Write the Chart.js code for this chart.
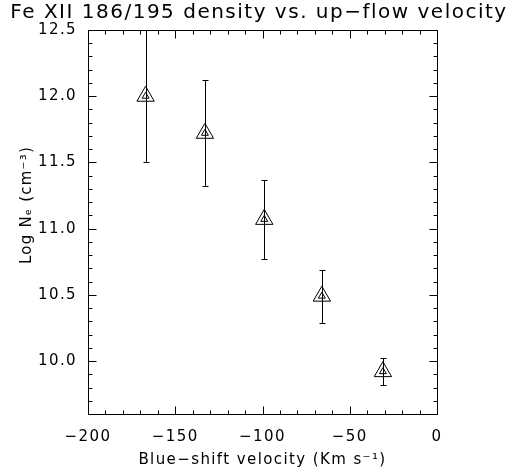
<!DOCTYPE html>
<html><head><meta charset="utf-8">
<script src="https://cdn.jsdelivr.net/npm/chart.js@4/dist/chart.umd.min.js"></script>
<style>html,body{margin:0;padding:0;background:#fff}canvas{display:block}</style>
</head><body>
<canvas id="c" width="511" height="471"></canvas>
<script>
const velocity = [-167, -133, -99, -66, -31];
const logNe = [12.0, 11.72, 11.07, 10.49, 9.92];
const errUpper = [0.5, 0.4, 0.3, 0.2, 0.1];
const errLower = [0.5, 0.4, 0.3, 0.2, 0.1];
const xTickValues = [-200, -150, -100, -50, 0];
const yTickValues = [10.0, 10.5, 11.0, 11.5, 12.0, 12.5];
const titleText = 'Fe XII 186/195 density vs. up\u2212flow velocity';
const xTitle = 'Blue\u2212shift velocity (Km s\u207B\u00B9)';
const yTitle = 'Log N\u2091 (cm\u207B\u00B3)';

const FONT = 'DejaVu Sans';

const spacing = {
  id: 'spacing',
  beforeDraw(chart) { chart.ctx.letterSpacing = '1.4px'; }
};

const texts = {
  id: 'texts',
  afterDraw(chart) {
    const ctx = chart.ctx;
    ctx.save();
    ctx.fillStyle = '#000';
    ctx.textBaseline = 'middle';
    ctx.textAlign = 'center';
    ctx.letterSpacing = '1.5px';
    ctx.font = '20px "' + FONT + '"';
    ctx.fillText(titleText, 259, 13);
    ctx.letterSpacing = '1.2px';
    ctx.font = '15px "' + FONT + '"';
    ctx.translate(27, 205);
    ctx.rotate(-Math.PI / 2);
    ctx.fillText(yTitle, 0, 0);
    ctx.restore();
  }
};

const errorBars = {
  id: 'errorBars',
  beforeDatasetsDraw(chart) {
    const {ctx, chartArea: ca, scales: {x, y}} = chart;
    ctx.save();
    ctx.beginPath();
    ctx.rect(ca.left, ca.top, ca.right - ca.left, ca.bottom - ca.top);
    ctx.clip();
    ctx.strokeStyle = '#000';
    ctx.lineWidth = 1;
    ctx.beginPath();
    velocity.forEach((v, i) => {
      const px = Math.round(x.getPixelForValue(v)) + 0.5;
      const yh = Math.round(y.getPixelForValue(logNe[i] + errUpper[i])) + 0.5;
      const yl = Math.round(y.getPixelForValue(logNe[i] - errLower[i])) + 0.5;
      ctx.moveTo(px, yh); ctx.lineTo(px, yl);
      ctx.moveTo(px - 3, yh); ctx.lineTo(px + 3, yh);
      ctx.moveTo(px - 3, yl); ctx.lineTo(px + 3, yl);
    });
    ctx.stroke();
    ctx.restore();
  }
};

const frame = {
  id: 'frame',
  afterDatasetsDraw(chart) {
    const {ctx, chartArea: ca, scales: {x, y}} = chart;
    const L = Math.round(ca.left) + 0.5, R = Math.round(ca.right) + 0.5;
    const T = Math.round(ca.top) + 0.5, B = Math.round(ca.bottom) + 0.5;
    ctx.save();
    ctx.strokeStyle = '#000';
    ctx.lineWidth = 1;
    ctx.beginPath();
    ctx.rect(L, T, R - L, B - T);
    for (let k = -20; k <= 0; k++) {
      const px = Math.round(x.getPixelForValue(k * 10)) + 0.5;
      const len = (k % 5 === 0) ? 8 : 4;
      ctx.moveTo(px, B); ctx.lineTo(px, B - len);
      ctx.moveTo(px, T); ctx.lineTo(px, T + len);
    }
    for (let k = 96; k <= 125; k++) {
      const py = Math.round(y.getPixelForValue(k / 10)) + 0.5;
      const len = (k % 5 === 0) ? 8 : 4;
      ctx.moveTo(L, py); ctx.lineTo(L + len, py);
      ctx.moveTo(R, py); ctx.lineTo(R - len, py);
    }
    ctx.stroke();
    ctx.restore();
  }
};

const points = velocity.map((v, i) => ({x: v, y: logNe[i]}));

new Chart(document.getElementById('c'), {
  type: 'scatter',
  data: {
    datasets: [
      {data: points, pointStyle: 'triangle', pointRadius: 10, pointBorderColor: '#000',
       pointBackgroundColor: 'rgba(0,0,0,0)', pointBorderWidth: 1, showLine: false},
      {data: points, pointStyle: 'triangle', pointRadius: 4, pointBorderColor: '#000',
       pointBackgroundColor: 'rgba(0,0,0,0)', pointBorderWidth: 1, showLine: false}
    ]
  },
  options: {
    responsive: false,
    animation: false,
    devicePixelRatio: 1,
    layout: {padding: {left: 6, right: 74, top: 30, bottom: 0}},
    plugins: {
      legend: {display: false},
      tooltip: {enabled: false},
      title: {display: false}
    },
    scales: {
      x: {
        type: 'linear', min: -200, max: 0,
        grid: {display: false}, border: {display: false},
        afterBuildTicks: s => { s.ticks = xTickValues.map(v => ({value: v})); },
        afterFit: s => { s.height = 57; },
        ticks: {color: '#000', font: {family: FONT, size: 15}, padding: 6, maxRotation: 0,
          callback: v => (v < 0 ? '\u2212' + Math.abs(v) : String(v))},
        title: {display: true, text: xTitle, color: '#000', font: {family: FONT, size: 15}, padding: {top: 2, bottom: 2}}
      },
      y: {
        type: 'linear', min: 9.6, max: 12.5,
        grid: {display: false}, border: {display: false},
        afterBuildTicks: s => { s.ticks = yTickValues.map(v => ({value: v})); },
        afterFit: s => { s.width = 82; },
        ticks: {color: '#000', font: {family: FONT, size: 15}, padding: 3,
          callback: v => Number(v).toFixed(1)},
        title: {display: false}
      }
    }
  },
  plugins: [spacing, errorBars, frame, texts]
});
</script>
</body></html>
